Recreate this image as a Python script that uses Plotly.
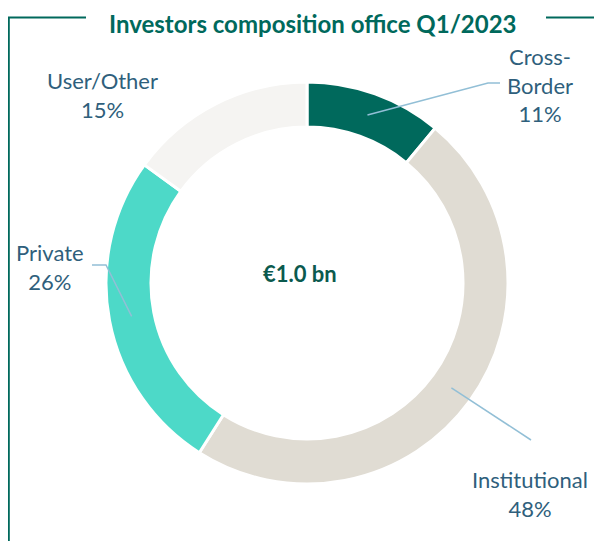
import math
import plotly.graph_objects as go

# ---- data ----
categories = ["Cross-Border", "Institutional", "Private", "User/Other"]
label_text = ["Cross-<br>Border<br>11%", "Institutional<br>48%", "Private<br>26%", "User/Other<br>15%"]
values = [11, 48, 26, 15]
colors = ["#00695C", "#E0DCD3", "#4DD9C8", "#F5F4F2"]
title_text = "Investors composition office Q1/2023"
center_text = "€1.0 bn"

W, H = 602, 541
OFF = 8  # page body margin
CX, CY, R_OUT, R_IN = 307, 283, 201, 156


def px(x):
    return (x - OFF) / W


def py(y):
    return 1 - (y - OFF) / H


fig = go.Figure()
fig.add_trace(go.Pie(
    labels=categories, values=values, hole=R_IN / R_OUT, sort=False,
    direction="clockwise", rotation=0, textinfo="none", hoverinfo="label+percent",
    marker=dict(colors=colors, line=dict(color="white", width=3)),
    domain=dict(x=[px(CX - R_OUT), px(CX + R_OUT)], y=[py(CY + R_OUT), py(CY - R_OUT)]),
    showlegend=False,
))

# anchor points on the ring, computed from the data
total = sum(values)
anchors = []
cum = 0
for v in values:
    mid = (cum + v / 2) / total * 2 * math.pi
    r = (R_OUT + R_IN) / 2
    anchors.append((CX + r * math.sin(mid), CY - r * math.cos(mid)))
    cum += v

# label layout (pixel positions of text centres and leader elbows)
label_pos = [(540, 85), (530, 494), (50, 267), (102, 95)]
leader_paths = [
    [(488, 83), (500, 83)],
    [(531, 440)],
    [(106, 265), (92, 265)],
    None,
]

shapes = []
for i, path in enumerate(leader_paths):
    if not path:
        continue
    pts = [anchors[i]] + path
    d = "M " + " L ".join(f"{px(x)},{py(y)}" for x, y in pts)
    shapes.append(dict(type="path", xref="paper", yref="paper", path=d,
                       line=dict(color="#92BFD6", width=1.5)))

frame_color = "#00695C"
shapes.append(dict(type="line", xref="paper", yref="paper", x0=px(8.8), x1=px(8.8), y0=py(17), y1=py(560),
                   line=dict(color=frame_color, width=2)))
shapes.append(dict(type="line", xref="paper", yref="paper", x0=px(8), x1=px(86), y0=py(17.5), y1=py(17.5),
                   line=dict(color=frame_color, width=2)))
shapes.append(dict(type="line", xref="paper", yref="paper", x0=px(546), x1=px(620), y0=py(17.5), y1=py(17.5),
                   line=dict(color=frame_color, width=2)))

annotations = []
for txt, (x, y) in zip(label_text, label_pos):
    annotations.append(dict(text=txt, x=px(x), y=py(y), xref="paper", yref="paper",
                            showarrow=False, xanchor="center", yanchor="middle", align="center",
                            font=dict(family="Lato", size=22, color="#2F5F7C")))
annotations.append(dict(text=f"<b>{title_text}</b>", x=px(313), y=1, xref="paper", yref="paper",
                        showarrow=False, xanchor="center", yanchor="top", borderpad=0,
                        font=dict(family="Lato", size=24, color="#00695C")))
annotations.append(dict(text=f"<b>{center_text}</b>", x=px(300), y=py(273), xref="paper", yref="paper",
                        showarrow=False, xanchor="center", yanchor="middle",
                        font=dict(family="Lato", size=22, color="#0B5A4E")))

fig.update_layout(
    width=W, height=H, margin=dict(l=0, r=0, t=0, b=0),
    paper_bgcolor="white", plot_bgcolor="white",
    shapes=shapes, annotations=annotations,
)

fig.write_html("out.html")
